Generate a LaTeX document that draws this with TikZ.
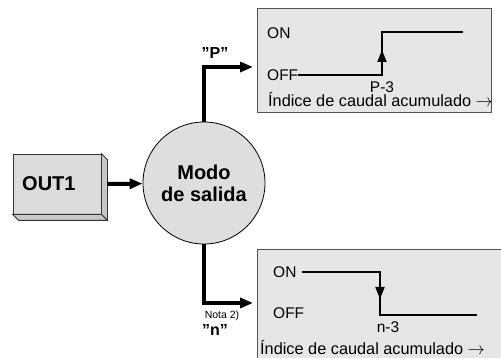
\documentclass[tikz,border=0pt]{standalone}
\usepackage{fontspec}
\setmainfont{Liberation Sans}
\usetikzlibrary{arrows.meta}

\definecolor{panelgray}{HTML}{E6E6E6}
\definecolor{circgray}{HTML}{DEDEDE}
\definecolor{boxgray}{HTML}{DCDCDC}
\definecolor{sidegray}{HTML}{C8C8C8}
\definecolor{edgegray}{HTML}{555555}

\tikzset{
  flow/.style={line width=4pt,-{Triangle[length=13pt,width=10pt]}},
  panel/.style={draw=edgegray,line width=1pt,fill=panelgray,anchor=north west,inner sep=0pt},
  sig/.style={line width=2pt},
  sigtip/.style={-{Triangle[length=12pt,width=9pt]}},
  lbl/.style={anchor=west,inner sep=0pt,font=\fontsize{15.5}{18}\selectfont},
  axislbl/.style={anchor=base west,inner sep=0pt,font=\fontsize{16.3}{19}\selectfont},
  ticklbl/.style={inner sep=0pt,font=\fontsize{15.5}{18}\selectfont},
  tag/.style={inner sep=0pt,font=\bfseries\fontsize{16}{18}\selectfont}
}

\begin{document}
\begin{tikzpicture}[x=1pt,y=-1pt]
\path[use as bounding box] (0,0) rectangle (501,358);
% panels
\node[panel,minimum width=234pt,minimum height=104pt] (topbox) at (257,8) {};
\node[panel,minimum width=250pt,minimum height=115pt] (botbox) at (257,249) {};

% OUT1 block
\node[draw=black!80,line width=.8pt,fill=boxgray,minimum width=88pt,minimum height=60pt] (out1) at (57,184) {};
\filldraw[draw=black!80,line width=.8pt,fill=sidegray] (out1.north east) -- ++(6,6)
  -- ([shift={(6,6)}]out1.south east) -- (out1.south east) -- cycle;
\filldraw[draw=black!80,line width=.8pt,fill=sidegray] (out1.south west) -- ++(6,6)
  -- ([shift={(6,6)}]out1.south east) -- (out1.south east) -- cycle;
\node[anchor=west,inner sep=0pt,font=\bfseries\fontsize{20}{22}\selectfont] (out1txt) at (22,184) {OUT1};

% mode circle
\node[circle,draw,line width=.8pt,fill=circgray,minimum size=122pt,align=center,
      font=\bfseries\fontsize{20}{22}\selectfont] (modo) at (204,183) {Modo\\de salida};

\coordinate (ptop) at (253,67);
\coordinate (pbot) at (253,303);
\draw[flow] ([xshift=6pt]out1.east) -- (modo);
\draw[flow] (modo) |- (ptop);
\draw[flow] (modo) |- (pbot);

\node[tag] (tagp) at (215,53) {"P"};
\node[inner sep=0pt,font=\fontsize{10.5}{12}\selectfont] (nota) at (222,316) {Nota 2)};
\node[tag] (tagn) at (215,330) {"n"};

% upper chart
\node[lbl] (on1) at (267,33) {ON};
\node[lbl] (off1) at (267,75) {OFF};
\draw[sig] (off1.east) -- (382,75) -- (382,32) -- (463,32);
\draw[sig,sigtip] (382,75) -- (382,50);
\node[ticklbl] (p3) at (382,87) {P-3};
\node[axislbl] (idx1) at (268,107) {Índice de caudal acumulado $\rightarrow$};

% lower chart
\node[lbl] (on2) at (273,272) {ON};
\node[lbl] (off2) at (273,313) {OFF};
\draw[sig] ([xshift=5pt]on2.east) -- (380,272) -- (380,315) -- (477,315);
\draw[sig,sigtip] (380,272) -- (380,299);
\node[ticklbl] (n3) at (388,327) {n-3};
\node[axislbl] (idx2) at (260,354) {Índice de caudal acumulado $\rightarrow$};
\end{tikzpicture}
\end{document}
